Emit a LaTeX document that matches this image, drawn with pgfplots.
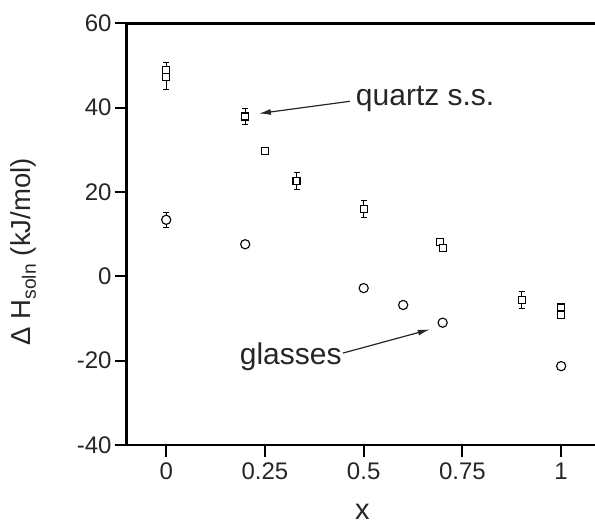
\documentclass[border=0pt]{standalone}
\usepackage{fontspec}
\setmainfont{Liberation Sans}
\usepackage{pgfplots}
\pgfplotsset{compat=1.18}
\usetikzlibrary{arrows.meta}

% quartz solid solutions (squares): x, y, err+, err-
\pgfplotstableread{
x      y     ep   em
0      48.9  1.7  0
0      47.3  0    2.9
0.2    37.9  1.9  1.9
0.25   29.7  0    0
0.33   22.7  2.0  2.0
0.5    16.0  2.0  2.0
0.693  8.2   0    0
0.700  6.8   0    0
0.9    -5.6  2.0  2.0
1.0    -7.4  0    0
1.0    -9.1  0    0
}\quartz
% glasses (circles)
\pgfplotstableread{
x      y     ep   em
0      13.4  1.7  1.7
0.2    7.6   0    0
0.5    -2.8  0    0
0.6    -6.8  0    0
0.7    -11.0 0    0
1.0    -21.3 0    0
}\glasses

\begin{document}
\begin{tikzpicture}
\begin{axis}[
  scale only axis,
  width=468.3pt, height=421.7pt,
  xmin=-0.1, xmax=1.0857, ymin=-40, ymax=60,
  axis x line*=box, axis y line*=left,
  xtick pos=left,
  tick align=outside,
  major tick length=12pt,
  axis line style={line width=2.8pt, black},
  every tick/.style={line width=2pt, black},
  xtick={0,0.25,0.5,0.75,1},
  xticklabels={0,0.25,0.5,0.75,1},
  ytick={-40,-20,0,20,40,60},
  yticklabels={-40,-20,0,20,40,60},
  tick label style={font=\fontsize{24}{28}\selectfont, text=black!85, inner sep=0pt},
  xticklabel shift=6pt,
  yticklabel shift=3pt,
  xlabel={x},
  ylabel={Δ H\textsubscript{soln} (kJ/mol)},
  every axis x label/.style={at={(axis description cs:0.5035,-0.176)}, anchor=base,
    font=\fontsize{29}{34}\selectfont, text=black!85},
  every axis y label/.style={at={(axis description cs:-0.2208,0.458)}, anchor=center, rotate=90,
    font=\fontsize{27.5}{32}\selectfont, text=black!85},
  clip=false,
]
\coordinate (bl) at (rel axis cs:0,0);
\addplot[black, only marks, mark=square*, mark size=3.5pt,
  mark options={fill=white, line width=1.1pt},
  error bars/.cd, y dir=both, y explicit,
  error bar style={line width=0.9pt},
  error mark options={rotate=90, mark size=3pt, line width=0.9pt}]
  table[x=x, y=y, y error plus=ep, y error minus=em] {\quartz};
\addplot[black, only marks, mark=*, mark size=4.6pt,
  mark options={fill=white, line width=1.1pt},
  error bars/.cd, y dir=both, y explicit,
  error bar style={line width=0.9pt},
  error mark options={rotate=90, mark size=3pt, line width=0.9pt}]
  table[x=x, y=y, y error plus=ep, y error minus=em] {\glasses};
\node[anchor=base west, inner sep=0pt, font=\fontsize{30}{36}\selectfont, text=black!85]
  at (axis cs:0.48,40.5) {quartz s.s.};
\draw[-{Latex[length=12pt,width=6pt]}, line width=1.2pt, black!85]
  (axis cs:0.465,41.5) -- (axis cs:0.2347,38.6);
\node[anchor=base west, inner sep=0pt, font=\fontsize{30}{36}\selectfont, text=black!85]
  at (axis cs:0.186,-20.95) {glasses};
\draw[-{Latex[length=12pt,width=6pt]}, line width=1.2pt, black!85]
  (axis cs:0.4477,-18.2) -- (axis cs:0.6674,-12.6);
\end{axis}
\pgfresetboundingbox
\path[use as bounding box] (bl) ++(-126.7pt,-79pt) rectangle ++(595pt,524pt);
\end{tikzpicture}
\end{document}
